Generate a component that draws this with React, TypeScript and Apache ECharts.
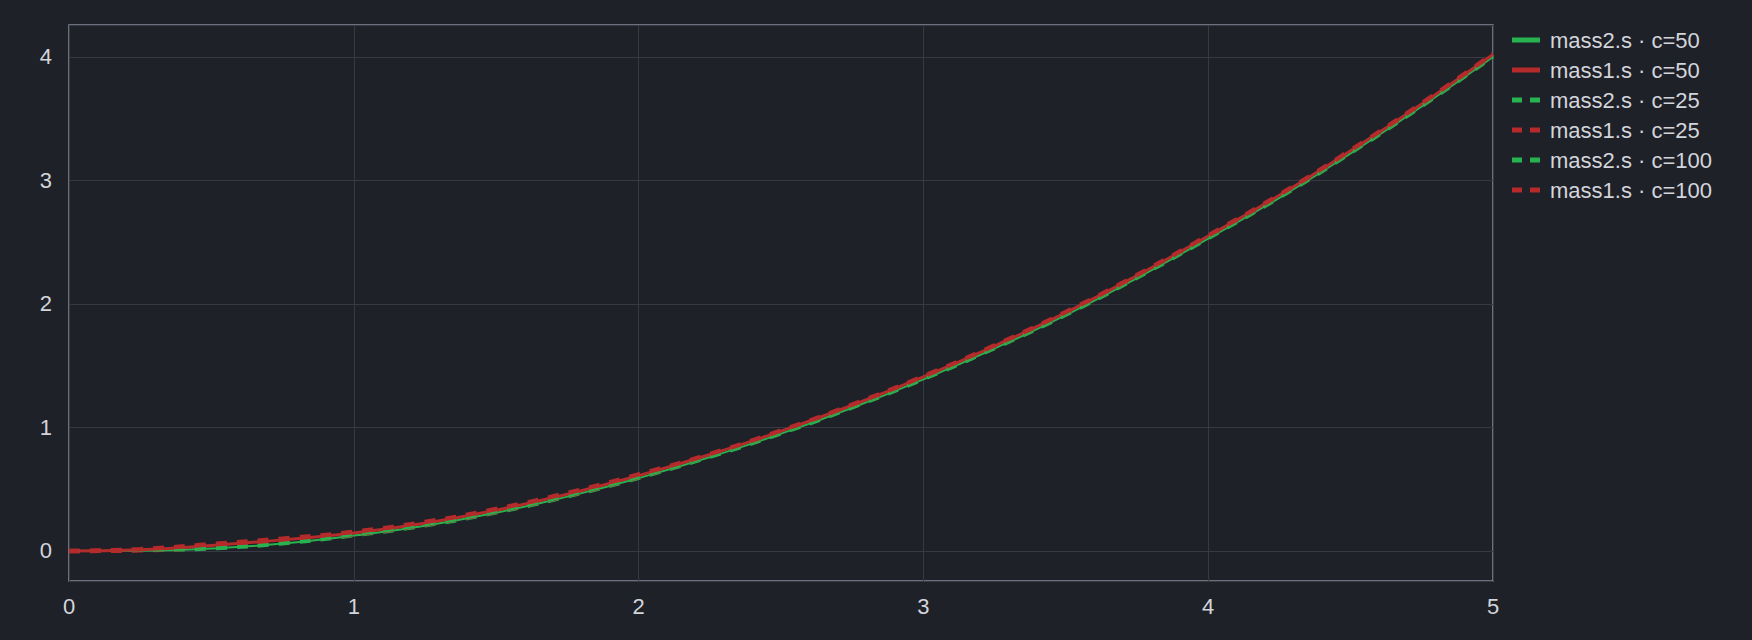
import React, { useEffect, useRef } from "react";
import * as echarts from "echarts";

// time axis (s)
const t = [0, 0.25, 0.5, 0.75, 1, 1.25, 1.5, 1.75, 2, 2.25, 2.5, 2.75, 3, 3.25, 3.5, 3.75, 4, 4.25, 4.5, 4.75, 5];

// displacement
const mass2C50 = [0, 0.002, 0.02, 0.06, 0.125, 0.205, 0.31, 0.44, 0.59, 0.76, 0.95, 1.16, 1.39, 1.64, 1.91, 2.21, 2.53, 2.86, 3.22, 3.6, 4.0];
const mass1C50 = [0, 0.01, 0.045, 0.09, 0.145, 0.225, 0.33, 0.46, 0.61, 0.78, 0.97, 1.18, 1.41, 1.66, 1.93, 2.23, 2.55, 2.88, 3.24, 3.62, 4.02];
const mass2C25 = [0, 0.001, 0.015, 0.055, 0.12, 0.2, 0.305, 0.435, 0.585, 0.755, 0.945, 1.155, 1.385, 1.635, 1.905, 2.205, 2.525, 2.855, 3.215, 3.595, 3.995];
const mass1C25 = [0, 0.005, 0.035, 0.08, 0.135, 0.215, 0.32, 0.45, 0.6, 0.775, 0.965, 1.175, 1.405, 1.655, 1.925, 2.225, 2.545, 2.875, 3.235, 3.615, 4.015];
const mass2C100 = [0, 0.003, 0.025, 0.065, 0.13, 0.21, 0.315, 0.445, 0.595, 0.765, 0.955, 1.165, 1.395, 1.645, 1.915, 2.215, 2.535, 2.865, 3.225, 3.605, 4.005];
const mass1C100 = [0, 0.015, 0.055, 0.1, 0.155, 0.235, 0.34, 0.47, 0.62, 0.785, 0.975, 1.185, 1.415, 1.665, 1.935, 2.235, 2.555, 2.885, 3.245, 3.625, 4.025];

const GREEN = "#27b34f";
const RED = "#b52a2a";
const TEXT = "#d3d5db";

// legend icons: solid bar / two dashes
const SOLID_ICON = "path://M0 0H28V5H0Z";
const DASH_ICON = "path://M0 0H10V5H0ZM18 0H28V5H18Z";

type Spec = { name: string; values: number[]; color: string; dashed: boolean; width: number };

const specs: Spec[] = [
  { name: "mass2.s · c=50", values: mass2C50, color: GREEN, dashed: false, width: 2 },
  { name: "mass1.s · c=50", values: mass1C50, color: RED, dashed: false, width: 3 },
  { name: "mass2.s · c=25", values: mass2C25, color: GREEN, dashed: true, width: 2.5 },
  { name: "mass1.s · c=25", values: mass1C25, color: RED, dashed: true, width: 4.5 },
  { name: "mass2.s · c=100", values: mass2C100, color: GREEN, dashed: true, width: 2.5 },
  { name: "mass1.s · c=100", values: mass1C100, color: RED, dashed: true, width: 4.5 },
];

function Chart() {
  const ref = useRef<HTMLDivElement | null>(null);

  useEffect(() => {
    if (!ref.current) return;
    const chart = echarts.init(ref.current, undefined, { renderer: "svg" });
    const font = "'Liberation Sans', Arial, sans-serif";

    chart.setOption({
      animation: false,
      backgroundColor: "#1f2129",
      textStyle: { fontFamily: font },
      grid: {
        left: 69,
        right: 259,
        top: 25,
        bottom: 59,
        show: true,
        borderColor: "#878b99",
        borderWidth: 1.5,
      },
      legend: {
        orient: "vertical",
        left: 1507,
        top: 24,
        itemWidth: 28,
        itemHeight: 5,
        itemGap: 8,
        textStyle: { color: TEXT, fontSize: 22, fontFamily: font, padding: [0, 0, 0, 5] },
        data: specs.map((s) => ({
          name: s.name,
          icon: s.dashed ? DASH_ICON : SOLID_ICON,
          itemStyle: { color: s.color, borderWidth: 0 },
        })),
      },
      xAxis: {
        type: "value",
        min: 0,
        max: 5,
        interval: 1,
        axisLine: { show: false },
        axisTick: { show: false },
        axisLabel: { color: TEXT, fontSize: 22, margin: 14, fontFamily: font },
        splitLine: { lineStyle: { color: "#373a44", width: 1 } },
      },
      yAxis: {
        type: "value",
        min: -0.243,
        max: 4.259,
        axisLine: { show: false },
        axisTick: { show: false },
        axisLabel: {
          color: TEXT,
          fontSize: 22,
          margin: 17,
          fontFamily: font,
          showMinLabel: false,
          showMaxLabel: false,
        },
        splitLine: { lineStyle: { color: "#373a44", width: 1 } },
      },
      series: specs.map((s) => ({
        name: s.name,
        type: "line",
        smooth: true,
        symbol: "none",
        data: t.map((x, i) => [x, s.values[i]]),
        lineStyle: {
          color: s.color,
          width: s.width,
          type: s.dashed ? [11, 10] : "solid",
        },
        itemStyle: { color: s.color },
      })),
    });

    return () => chart.dispose();
  }, []);

  return <div ref={ref} style={{ width: 1752, height: 640 }} />;
}

export default function App() {
  useEffect(() => {
    document.body.style.margin = "0";
    document.body.style.background = "#1f2129";
  }, []);
  return <Chart />;
}
